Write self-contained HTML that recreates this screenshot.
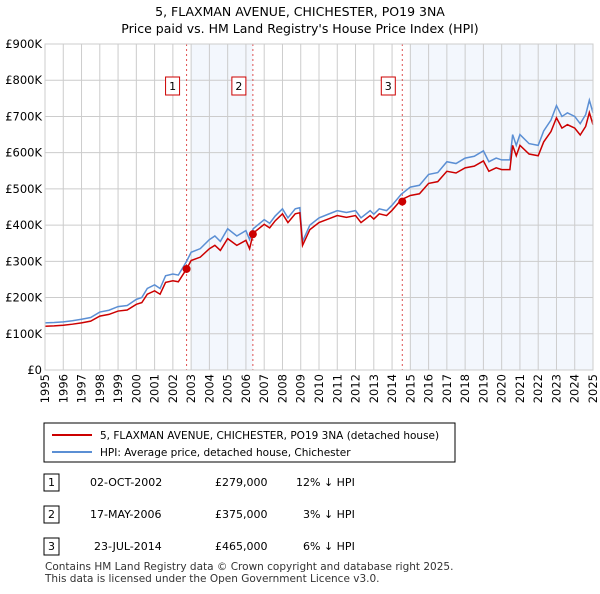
<!DOCTYPE html>
<html><head><meta charset="utf-8"><style>
body{margin:0;background:#fff;font-family:"DejaVu Sans","Liberation Sans",sans-serif;}
svg text{font-family:"DejaVu Sans","Liberation Sans",sans-serif;}
</style></head><body>
<svg width="600" height="590" viewBox="0 0 600 590" id="c">
<text x="300" y="16" text-anchor="middle" font-size="12.5">5, FLAXMAN AVENUE, CHICHESTER, PO19 3NA</text>
<text x="300" y="33" text-anchor="middle" font-size="12.5">Price paid vs. HM Land Registry's House Price Index (HPI)</text>
<g id="plot"></g>
<g>
<rect x="44" y="423" width="411" height="39" fill="#fff" stroke="#000" stroke-width="1"/>
<line x1="52" y1="435" x2="92" y2="435" stroke="#cc0000" stroke-width="2"/>
<text x="100" y="439" font-size="10.5">5, FLAXMAN AVENUE, CHICHESTER, PO19 3NA (detached house)</text>
<line x1="52" y1="452" x2="92" y2="452" stroke="#5b8fd4" stroke-width="2"/>
<text x="100" y="456" font-size="10.5">HPI: Average price, detached house, Chichester</text>
</g>
<g font-size="11">
<rect x="44" y="474" width="15" height="17" fill="#fff" stroke="#000"/><text x="51.5" y="486" text-anchor="middle">1</text>
<text x="90" y="486">02-OCT-2002</text><text x="215" y="486">£279,000</text><text x="296" y="486">12% ↓ HPI</text>
<rect x="44" y="506" width="15" height="17" fill="#fff" stroke="#000"/><text x="51.5" y="518" text-anchor="middle">2</text>
<text x="90" y="518">17-MAY-2006</text><text x="215" y="518">£375,000</text><text x="303" y="518">3% ↓ HPI</text>
<rect x="44" y="538" width="15" height="17" fill="#fff" stroke="#000"/><text x="51.5" y="550" text-anchor="middle">3</text>
<text x="94" y="550">23-JUL-2014</text><text x="215" y="550">£465,000</text><text x="303" y="550">6% ↓ HPI</text>
</g>
<text x="45" y="570" font-size="10.5" fill="#333">Contains HM Land Registry data © Crown copyright and database right 2025.</text>
<text x="45" y="582" font-size="10.5" fill="#333">This data is licensed under the Open Government Licence v3.0.</text>
</svg>
<script>
const yTicks=[0,100,200,300,400,500,600,700,800,900];
const yLabels=["£0","£100K","£200K","£300K","£400K","£500K","£600K","£700K","£800K","£900K"];
const xYears=[1995,1996,1997,1998,1999,2000,2001,2002,2003,2004,2005,2006,2007,2008,2009,2010,2011,2012,2013,2014,2015,2016,2017,2018,2019,2020,2021,2022,2023,2024,2025];
const hpiT=[1995,1995.5,1996,1996.5,1997,1997.5,1998,1998.5,1999,1999.5,2000,2000.3,2000.6,2001,2001.3,2001.6,2002,2002.3,2002.75,2003,2003.5,2004,2004.3,2004.6,2005,2005.5,2006,2006.2,2006.4,2007,2007.3,2007.6,2008,2008.3,2008.7,2008.95,2009.1,2009.5,2010,2010.5,2011,2011.5,2012,2012.3,2012.8,2013,2013.3,2013.7,2014,2014.5,2015,2015.5,2016,2016.5,2017,2017.5,2018,2018.5,2019,2019.3,2019.7,2020,2020.45,2020.6,2020.8,2021,2021.5,2022,2022.3,2022.7,2023,2023.3,2023.6,2024,2024.3,2024.6,2024.8,2025];
const hpiV=[130,131,133,136,140,145,160,165,175,178,195,200,225,235,225,260,265,262,300,325,335,360,370,355,390,370,385,360,390,415,405,425,445,420,445,448,355,400,420,430,440,435,440,420,440,430,445,440,455,485,505,510,540,545,575,570,585,590,605,575,585,580,580,650,620,650,625,620,660,690,730,700,710,700,680,705,745,710];
const saleT=[2002.75,2006.38,2014.56];
const saleV=[279,375,465];
const L=45,R=593,T=44,B=370;
const xs=y=>L+(y-1995)/30*(R-L);
const ys=v=>B-v/900*(B-T);
const NS="http://www.w3.org/2000/svg";
const g=document.getElementById('plot');
function mk(tag,at,parent){const e=document.createElementNS(NS,tag);for(const k in at)e.setAttribute(k,at[k]);(parent||g).appendChild(e);return e;}
let e;
e=mk('rect',{x:xs(2003),y:T,width:xs(saleT[1])-xs(2003),height:B-T,fill:'#eef3fc',opacity:0.7});


e=mk('rect',{x:xs(2015),y:T,width:R-xs(2015),height:B-T,fill:'#eef3fc',opacity:0.7});


yTicks.forEach((v,i)=>{
 e=mk('line',{x1:L,x2:R,y1:ys(v),y2:ys(v),stroke:'#ccc','stroke-width':1});
 
 
 e=mk('text',{x:L-3,y:ys(v)+4,'text-anchor':'end','font-size':11.5});e.textContent=yLabels[i];
 
 
});
xYears.forEach(y=>{
 e=mk('line',{x1:xs(y),x2:xs(y),y1:T,y2:B,stroke:'#ccc','stroke-width':1});
 
 
 const x=xs(y),yy=B+4;
 e=mk('text',{x:x,y:yy,'font-size':11.5,'text-anchor':'end',transform:`rotate(-90 ${x} ${yy})`,dy:'4'});e.textContent=y;
 
 
});
saleT.forEach((t,i)=>{
 e=mk('line',{x1:xs(t),x2:xs(t),y1:T,y2:B,stroke:'#e05050','stroke-width':1,'stroke-dasharray':'2,3'});
 
 
 e=mk('rect',{x:xs(t)-21,y:77,width:14,height:18,fill:'#fff',stroke:'#cc0000'});
 
 
 e=mk('text',{x:xs(t)-14,y:90,'text-anchor':'middle','font-size':11});e.textContent=String(i+1);
 
 
});
function interp(t){for(let i=1;i<hpiT.length;i++){if(t<=hpiT[i]){const f=(t-hpiT[i-1])/(hpiT[i]-hpiT[i-1]);return hpiV[i-1]+f*(hpiV[i]-hpiV[i-1]);}}return hpiV[hpiV.length-1];}
const hp=hpiT.map((t,i)=>xs(t)+','+ys(hpiV[i])).join(' ');
e=mk('polyline',{points:hp,fill:'none',stroke:'#5b8fd4','stroke-width':1.5});


const rp=hpiT.map((t,i)=>{let r;if(t>=saleT[2])r=saleV[2]/interp(saleT[2]);else if(t>=saleT[1])r=saleV[1]/interp(saleT[1]);else r=saleV[0]/interp(saleT[0]);return xs(t)+','+ys(hpiV[i]*r);}).join(' ');
e=mk('polyline',{points:rp,fill:'none',stroke:'#cc0000','stroke-width':1.5});


saleT.forEach((t,i)=>{
 e=mk('circle',{cx:xs(t),cy:ys(saleV[i]),r:4,fill:'#cc0000'});
 
 
});
e=mk('rect',{x:L,y:T,width:R-L,height:B-T,fill:'none',stroke:'#ccc'});


</script>
</body></html>
